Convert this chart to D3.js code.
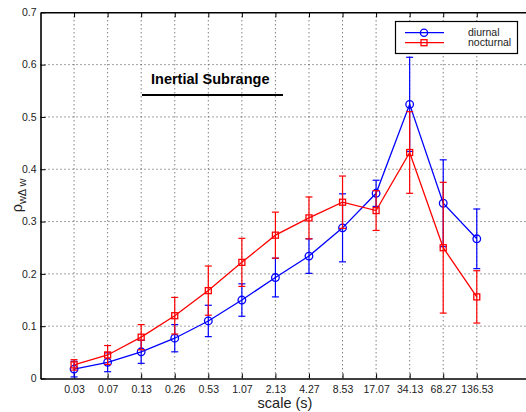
<!DOCTYPE html>
<html>
<head>
<meta charset="utf-8">
<script src="https://cdn.jsdelivr.net/npm/d3@7"></script>
<style>
  body { margin: 0; background: #fff; }
  svg { display: block; font-family: "Liberation Sans", Arial, Helvetica, sans-serif; }
</style>
</head>
<body>
<div id="chart"></div>
<script>
// values
var scaleLabels = ["0.03", "0.07", "0.13", "0.26", "0.53", "1.07", "2.13", "4.27", "8.53", "17.07", "34.13", "68.27", "136.53"];
var diurnal      = [0.018, 0.031, 0.051, 0.077, 0.110, 0.150, 0.193, 0.234, 0.288, 0.354, 0.524, 0.335, 0.267];
var diurnalErr   = [0.015, 0.018, 0.022, 0.026, 0.030, 0.031, 0.037, 0.033, 0.065, 0.025, 0.090, 0.083, 0.057];
var nocturnal    = [0.026, 0.045, 0.079, 0.120, 0.168, 0.222, 0.274, 0.307, 0.337, 0.321, 0.432, 0.250, 0.156];
var nocturnalErr = [0.010, 0.018, 0.024, 0.035, 0.047, 0.046, 0.044, 0.040, 0.050, 0.038, 0.078, 0.125, 0.050];
var yTicks = [0, 0.1, 0.2, 0.3, 0.4, 0.5, 0.6, 0.7];

var width = 526, height = 412;
var plotLeft = 40.5, plotTop = 12.3, plotBottom = 378.5;
var step = 33.56;

var svg = d3.select("#chart").append("svg")
    .attr("width", width)
    .attr("height", height);

// x is the index of the scale, plot box runs past the right border of the picture
var x = d3.scaleLinear().domain([0, 15]).range([plotLeft, plotLeft + 15 * step]);
var y = d3.scaleLinear().domain([0, 0.7]).range([plotBottom, plotTop]);
var xIdx = d3.range(1, scaleLabels.length + 1);

// dotted grid
var grid = svg.append("g").attr("stroke", "#444").attr("stroke-width", 1)
    .attr("stroke-dasharray", "1,3");
grid.selectAll(".gx").data(xIdx).enter().append("line")
    .attr("x1", function(d){ return x(d); }).attr("x2", function(d){ return x(d); })
    .attr("y1", plotTop).attr("y2", plotBottom);
grid.selectAll(".gy").data(yTicks.slice(1, -1)).enter().append("line")
    .attr("x1", plotLeft).attr("x2", width)
    .attr("y1", function(d){ return y(d); }).attr("y2", function(d){ return y(d); });

// axes with inward ticks
var xAxis = d3.axisBottom(x).tickValues(xIdx)
    .tickFormat(function(d){ return scaleLabels[d - 1]; })
    .tickSizeInner(-5).tickSizeOuter(0).tickPadding(9);
var gx = svg.append("g").attr("transform", "translate(0," + plotBottom + ")").call(xAxis);

var xTop = d3.axisTop(x).tickValues(xIdx).tickFormat("")
    .tickSizeInner(-5).tickSizeOuter(0);
var gt = svg.append("g").attr("transform", "translate(0," + plotTop + ")").call(xTop);

var yAxis = d3.axisLeft(y).tickValues(yTicks)
    .tickFormat(function(d){ return d === 0 ? "0" : d3.format(".1f")(d); })
    .tickSizeInner(-5).tickSizeOuter(0).tickPadding(4);
var gy = svg.append("g").attr("transform", "translate(" + plotLeft + ",0)").call(yAxis);

[gx, gt, gy].forEach(function(g){
    g.select(".domain").attr("stroke", "#000").attr("stroke-width", 1.6);
    g.selectAll(".tick line").attr("stroke", "#000");
    g.selectAll(".tick text").attr("fill", "#222").style("font-size", "10.5px");
});
gx.selectAll(".tick text").attr("dy", "0.5em");

// series with error bars
function drawSeries(vals, errs, color, marker) {
    var g = svg.append("g");
    var line = d3.line()
        .x(function(d, i){ return x(i + 1); })
        .y(function(d){ return y(d); });
    g.append("path").datum(vals)
        .attr("d", line).attr("fill", "none")
        .attr("stroke", color).attr("stroke-width", 1.3);

    var eb = g.selectAll(".eb").data(vals).enter().append("g")
        .attr("stroke", color).attr("stroke-width", 1.2);
    eb.append("line")
        .attr("x1", function(d, i){ return x(i + 1); })
        .attr("x2", function(d, i){ return x(i + 1); })
        .attr("y1", function(d, i){ return y(d - errs[i]); })
        .attr("y2", function(d, i){ return y(d + errs[i]); });
    eb.append("line")
        .attr("x1", function(d, i){ return x(i + 1) - 3.5; })
        .attr("x2", function(d, i){ return x(i + 1) + 3.5; })
        .attr("y1", function(d, i){ return y(d + errs[i]); })
        .attr("y2", function(d, i){ return y(d + errs[i]); });
    eb.append("line")
        .attr("x1", function(d, i){ return x(i + 1) - 3.5; })
        .attr("x2", function(d, i){ return x(i + 1) + 3.5; })
        .attr("y1", function(d, i){ return y(d - errs[i]); })
        .attr("y2", function(d, i){ return y(d - errs[i]); });

    if (marker === "circle") {
        g.selectAll(".mk").data(vals).enter().append("circle")
            .attr("cx", function(d, i){ return x(i + 1); })
            .attr("cy", function(d){ return y(d); })
            .attr("r", 3.8).attr("fill", "none")
            .attr("stroke", color).attr("stroke-width", 1.3);
    } else {
        g.selectAll(".mk").data(vals).enter().append("rect")
            .attr("x", function(d, i){ return x(i + 1) - 3; })
            .attr("y", function(d){ return y(d) - 3; })
            .attr("width", 6).attr("height", 6).attr("fill", "none")
            .attr("stroke", color).attr("stroke-width", 1.3);
    }
}
drawSeries(diurnal, diurnalErr, "#0000ff", "circle");
drawSeries(nocturnal, nocturnalErr, "#ff0000", "square");

// annotation
svg.append("text").attr("x", 151).attr("y", 84)
    .style("font-size", "14.5px").style("font-weight", "bold")
    .text("Inertial Subrange");
svg.append("line").attr("x1", 142).attr("x2", 283).attr("y1", 95).attr("y2", 95)
    .attr("stroke", "#000").attr("stroke-width", 2.2);

// legend
var lg = svg.append("g");
lg.append("rect").attr("x", 395.5).attr("y", 21.5).attr("width", 122).attr("height", 32)
    .attr("fill", "#fff").attr("stroke", "#000").attr("stroke-width", 1.2);
var legendItems = [
    {name: "diurnal", color: "#0000ff", marker: "circle", yy: 32.7},
    {name: "nocturnal", color: "#ff0000", marker: "square", yy: 42.7}
];
legendItems.forEach(function(it){
    lg.append("line").attr("x1", 405).attr("x2", 444).attr("y1", it.yy).attr("y2", it.yy)
        .attr("stroke", it.color).attr("stroke-width", 1.3);
    if (it.marker === "circle") {
        lg.append("circle").attr("cx", 424).attr("cy", it.yy).attr("r", 3.6)
            .attr("fill", "none").attr("stroke", it.color).attr("stroke-width", 1.3);
    } else {
        lg.append("rect").attr("x", 421).attr("y", it.yy - 3).attr("width", 6).attr("height", 6)
            .attr("fill", "none").attr("stroke", it.color).attr("stroke-width", 1.3);
    }
    lg.append("text").attr("x", 468).attr("y", it.yy + 3.6)
        .style("font-size", "10.5px").attr("fill", "#222").text(it.name);
});

// axis titles
svg.append("text").attr("x", 285).attr("y", 408)
    .attr("text-anchor", "middle").style("font-size", "14.5px").attr("fill", "#222")
    .text("scale (s)");

var yl = svg.append("text")
    .attr("transform", "translate(22," + ((plotTop + plotBottom) / 2) + ") rotate(-90)")
    .attr("text-anchor", "middle").style("font-size", "14.5px").attr("fill", "#222");
yl.append("tspan").text("ρ");
yl.append("tspan").attr("dy", 4).style("font-size", "11px").text("wΔ w");
</script>
</body>
</html>
